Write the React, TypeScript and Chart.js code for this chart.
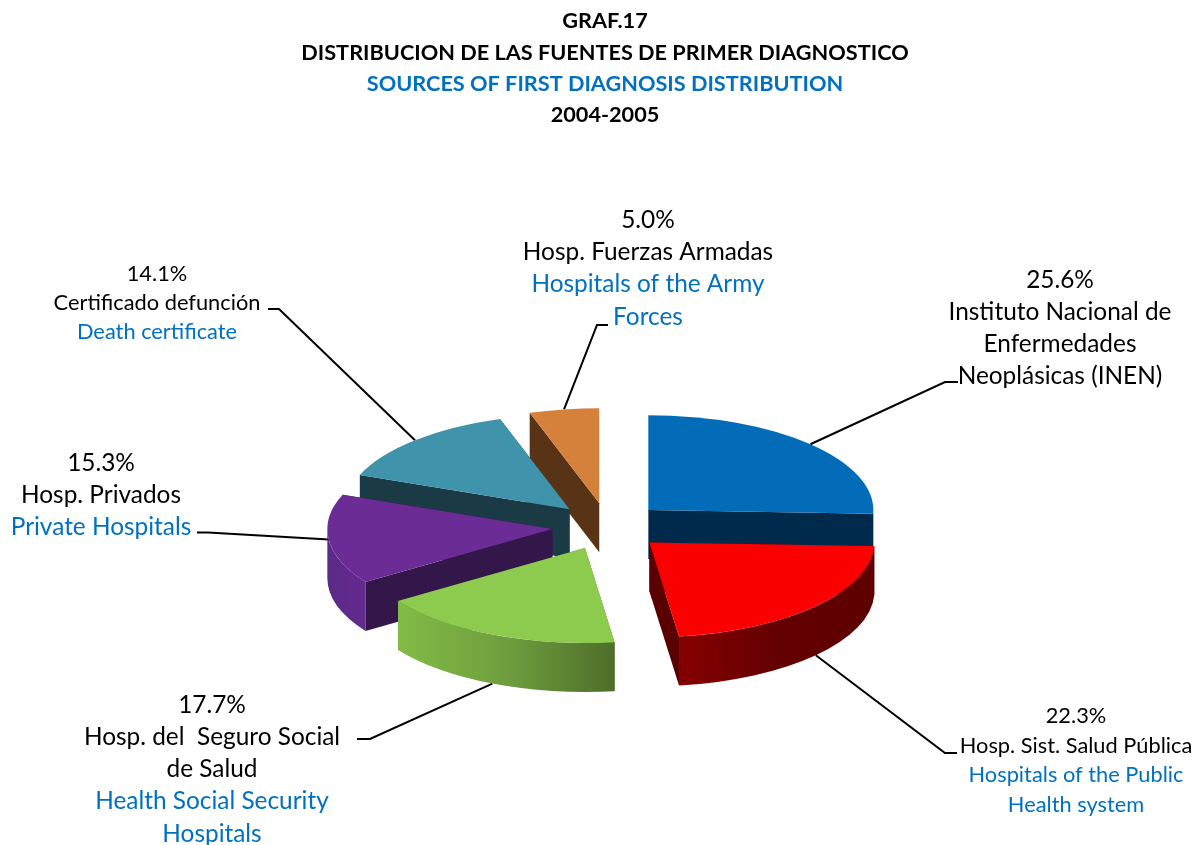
import React, { useEffect, useRef } from "react";
import { Chart, registerables } from "chart.js";

Chart.register(...registerables);

const categories = [
  "Instituto Nacional de Enfermedades Neoplásicas (INEN)",
  "Hosp. Sist. Salud Pública",
  "Hosp. del Seguro Social de Salud",
  "Hosp. Privados",
  "Certificado defunción",
  "Hosp. Fuerzas Armadas",
];
const shares = [25.6, 22.3, 17.7, 15.3, 14.1, 5.0];

const titleLines = [
  "GRAF.17",
  "DISTRIBUCION DE LAS FUENTES DE PRIMER DIAGNOSTICO",
  "SOURCES OF FIRST DIAGNOSIS DISTRIBUTION",
  "2004-2005",
];
const titleColors = ["#000000", "#000000", "#0070C0", "#000000"];
const titleY = [21, 53, 84, 115];

const blackLines = [
  ["Instituto Nacional de", "Enfermedades", "Neoplásicas (INEN)"],
  ["Hosp. Sist. Salud Pública"],
  ["Hosp. del  Seguro Social", "de Salud"],
  ["Hosp. Privados"],
  ["Certificado defunción"],
  ["Hosp. Fuerzas Armadas"],
];
const blueLines = [
  [],
  ["Hospitals of the Public", "Health system"],
  ["Health Social Security", "Hospitals"],
  ["Private Hospitals"],
  ["Death certificate"],
  ["Hospitals of the Army", "Forces"],
];

const labelCenterX = [1060, 1076, 212, 101, 157, 648];
const labelTopY = [280, 716, 705, 463, 274, 220];
const labelStep = [32, 29.5, 32.2, 32, 29, 32.3];
const labelFont = [24.4, 21.8, 24.4, 24.4, 21.8, 24.4];

const elbowX = [945, 945, 370, 208, 279, 597];
const elbowY = [382, 753, 739, 532.5, 309, 325];
const leaderEndX = [958, 957, 357, 197, 268, 608];

const topColors = ["#036CB9", "#FA0000", "#8DCB4F", "#6B2C96", "#3F94AB", "#D5813B"];
const cutColors = ["#002A4C", "#5A0000", "#4E6E29", "#33164A", "#1A3A46", "#593315"];
const wallStops = [
  ["#002A4C", "#002A4C", "#002A4C"],
  ["#860000", "#640000", "#5E0000"],
  ["#82BC46", "#6E9E3E", "#4E6E29"],
  ["#5A2A86", "#602A8C", "#64298E"],
  ["#1A3A46", "#1A3A46", "#1A3A46"],
  ["#593315", "#593315", "#593315"],
];
const drawOrder = [5, 4, 0, 3, 2, 1];

const TILT = 0.422;
const DEPTH = 49;
const EXPLODE = 56;
const RADIUS = 225;
const FONT = "Lato";

const piePlugin = {
  id: "tiltedPie",
  beforeDatasetsDraw(chart: any) {
    const { ctx } = chart;
    const arcs = chart.getDatasetMeta(0).data;
    const geo = (arc: any) => {
      const mid = (arc.startAngle + arc.endAngle) / 2;
      return {
        mid,
        x: arc.x + EXPLODE * Math.cos(mid),
        y: arc.y + TILT * EXPLODE * Math.sin(mid),
        r: arc.outerRadius,
      };
    };

    ctx.save();
    ctx.strokeStyle = "#000000";
    ctx.lineWidth = 2;
    arcs.forEach((arc: any, i: number) => {
      const g = geo(arc);
      const sy = Math.sin(g.mid);
      ctx.beginPath();
      ctx.moveTo(
        g.x + g.r * Math.cos(g.mid),
        g.y + TILT * g.r * sy + (sy > 0.5 ? DEPTH : 0)
      );
      ctx.lineTo(elbowX[i], elbowY[i]);
      ctx.lineTo(leaderEndX[i], elbowY[i]);
      ctx.stroke();
    });
    ctx.restore();

    drawOrder.forEach((i) => {
      const arc = arcs[i];
      const g = geo(arc);
      const px = (a: number) => g.x + g.r * Math.cos(a);
      const py = (a: number) => g.y + TILT * g.r * Math.sin(a);

      ctx.save();
      ctx.fillStyle = cutColors[i];
      [arc.startAngle, arc.endAngle].forEach((a: number) => {
        ctx.beginPath();
        ctx.moveTo(g.x, g.y);
        ctx.lineTo(px(a), py(a));
        ctx.lineTo(px(a), py(a) + DEPTH);
        ctx.lineTo(g.x, g.y + DEPTH);
        ctx.closePath();
        ctx.fill();
      });

      const a0 = Math.max(arc.startAngle, 0);
      const a1 = Math.min(arc.endAngle, Math.PI);
      if (a1 > a0) {
        const grad = ctx.createLinearGradient(px(a1), 0, px(a0), 0);
        wallStops[i].forEach((c, k) => grad.addColorStop(k / 2, c));
        ctx.fillStyle = grad;
        ctx.beginPath();
        ctx.ellipse(g.x, g.y, g.r, TILT * g.r, 0, a0, a1);
        ctx.ellipse(g.x, g.y + DEPTH, g.r, TILT * g.r, 0, a1, a0, true);
        ctx.closePath();
        ctx.fill();
      }
      ctx.restore();

      ctx.save();
      ctx.translate(g.x, g.y);
      ctx.scale(1, TILT);
      ctx.translate(-arc.x, -arc.y);
      arc.draw(ctx);
      ctx.restore();
    });
    return false;
  },
  afterDraw(chart: any) {
    const { ctx } = chart;
    ctx.save();
    ctx.textAlign = "center";
    ctx.textBaseline = "middle";
    ctx.font = `bold 21.7px ${FONT}`;
    titleLines.forEach((t, i) => {
      ctx.fillStyle = titleColors[i];
      ctx.fillText(t, 605, titleY[i]);
    });
    shares.forEach((v, i) => {
      ctx.font = `${labelFont[i]}px ${FONT}`;
      let y = labelTopY[i];
      ctx.fillStyle = "#000000";
      ctx.fillText(`${v.toFixed(1)}%`, labelCenterX[i], y);
      blackLines[i].forEach((t) => {
        y += labelStep[i];
        ctx.fillStyle = "#000000";
        ctx.fillText(t, labelCenterX[i], y);
      });
      blueLines[i].forEach((t) => {
        y += labelStep[i];
        ctx.fillStyle = "#0070C0";
        ctx.fillText(t, labelCenterX[i], y);
      });
    });
    ctx.restore();
  },
};

export default function App() {
  const ref = useRef<HTMLCanvasElement>(null);
  useEffect(() => {
    document.body.style.margin = "0";
    const chart = new Chart(ref.current!, {
      type: "pie",
      data: {
        labels: categories,
        datasets: [
          {
            data: shares,
            backgroundColor: topColors,
            borderWidth: 0,
            radius: RADIUS,
          } as any,
        ],
      },
      options: {
        responsive: false,
        animation: false,
        devicePixelRatio: 1,
        layout: { padding: { left: 20, top: 208 } },
        plugins: { legend: { display: false }, tooltip: { enabled: false } },
      },
      plugins: [piePlugin],
    } as any);
    return () => chart.destroy();
  }, []);
  return <canvas ref={ref} width={1196} height={845} style={{ display: "block" }} />;
}
